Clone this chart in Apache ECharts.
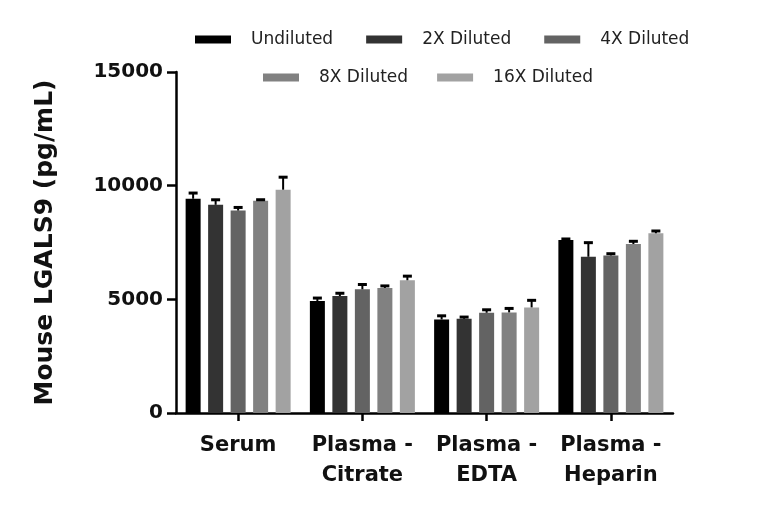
<!DOCTYPE html>
<html><head><meta charset="utf-8">
<script src="https://cdn.jsdelivr.net/npm/echarts@6/dist/echarts.min.js"></script>
<style>html,body{margin:0;padding:0;background:#fff}#c{width:768px;height:525px}</style>
</head><body><div id="c"></div>
<script>
const categories = ['Serum', 'Plasma -\nCitrate', 'Plasma -\nEDTA', 'Plasma -\nHeparin'];
const seriesNames = ['Undiluted', '2X Diluted', '4X Diluted', '8X Diluted', '16X Diluted'];
const colors = ['#000000', '#333333', '#636363', '#818181', '#a2a2a2'];
const undiluted = [9425, 4926, 4115, 7610];
const diluted2x = [9159, 5147, 4145, 6873];
const diluted4x = [8907, 5442, 4410, 6932];
const diluted8x = [9336, 5500, 4425, 7433];
const diluted16x = [9823, 5840, 4646, 7906];
const err_undiluted = [250, 130, 160, 45];
const err_2x = [220, 120, 75, 620];
const err_4x = [135, 210, 130, 75];
const err_8x = [45, 90, 175, 120];
const err_16x = [550, 180, 310, 100];
const yTicks = [0, 5000, 10000, 15000];

const values = [undiluted, diluted2x, diluted4x, diluted8x, diluted16x];
const errors = [err_undiluted, err_2x, err_4x, err_8x, err_16x];
const BW = 15, GAP = 7.5;

const chart = echarts.init(document.getElementById('c'));
const series = [];
values.forEach((v, i) => {
  series.push({
    name: seriesNames[i], type: 'bar', data: v, barWidth: BW, barGap: '50%',
    itemStyle: {color: colors[i]}, z: 2
  });
});
values.forEach((v, i) => {
  series.push({
    type: 'custom', z: 3, silent: true,
    data: v.map((val, k) => [k, val, errors[i][k]]),
    encode: {x: 0, y: 1},
    renderItem: function (params, api) {
      const c = api.coord([api.value(0), api.value(1)]);
      const t = api.coord([api.value(0), api.value(1) + api.value(2)]);
      const off = (i - 2) * (BW + GAP);
      const x = c[0] + off;
      return {type: 'group', children: [
        {type: 'line', shape: {x1: x, y1: c[1], x2: x, y2: t[1]}, style: {stroke: '#000', lineWidth: 2}},
        {type: 'line', shape: {x1: x - 4.5, y1: t[1], x2: x + 4.5, y2: t[1]}, style: {stroke: '#000', lineWidth: 3}}
      ]};
    }
  });
});

const F = '"DejaVu Sans", sans-serif';
const legendText = {fontFamily: F, fontSize: 17, color: '#222', padding: [0, 0, 0, 15]};
chart.setOption({
  animation: false,
  color: colors,
  legend: [
    {data: seriesNames.slice(0, 3), top: 31, left: 195, padding: 0, itemWidth: 36, itemHeight: 8, itemGap: 33,
      icon: 'rect', textStyle: legendText},
    {data: seriesNames.slice(3), top: 69, left: 263, padding: 0, itemWidth: 36, itemHeight: 8, itemGap: 29,
      icon: 'rect', textStyle: legendText}
  ],
  grid: {left: 176, right: 95, top: 72, bottom: 112, containLabel: false},
  xAxis: {
    type: 'category', data: categories,
    axisLine: {lineStyle: {color: '#000', width: 2.5}},
    axisTick: {show: true, alignWithLabel: true, length: 8, lineStyle: {color: '#000', width: 2.5}, interval: 0},
    axisLabel: {color: '#111', fontFamily: F, fontWeight: 'bold', fontSize: 21, lineHeight: 30, margin: 18, interval: 0}
  },
  yAxis: {
    type: 'value', min: 0, max: 15000, interval: 5000,
    name: 'Mouse LGALS9 (pg/mL)', nameLocation: 'middle', nameGap: 118,
    nameTextStyle: {color: '#111', fontFamily: F, fontWeight: 'bold', fontSize: 25},
    axisLine: {show: true, lineStyle: {color: '#000', width: 2.5}},
    axisTick: {show: true, length: 9, lineStyle: {color: '#000', width: 2.5}},
    splitLine: {show: false},
    axisLabel: {color: '#111', fontFamily: F, fontWeight: 'bold', fontSize: 20, margin: 13,
      formatter: v => yTicks.includes(v) ? String(v) : ''}
  },
  series: series
});
</script></body></html>
